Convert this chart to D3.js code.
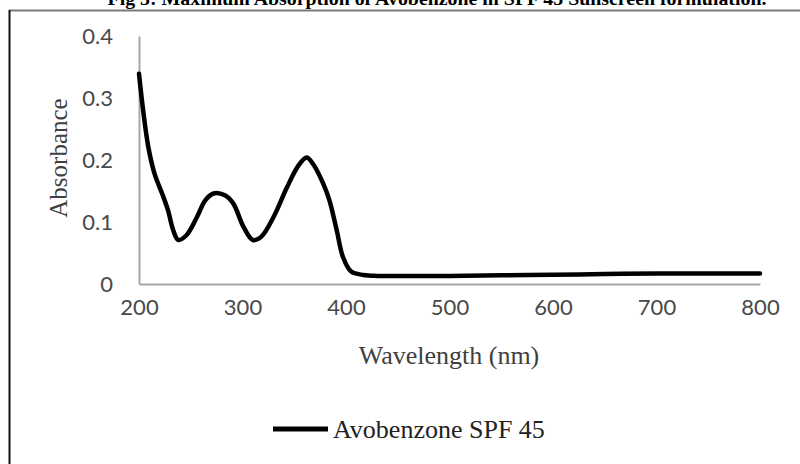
<!DOCTYPE html>
<html>
<head>
<meta charset="utf-8">
<script src="https://cdn.jsdelivr.net/npm/d3@7/dist/d3.min.js"></script>
<style>
html,body{margin:0;padding:0;background:#fff;}
svg{display:block;}
</style>
</head>
<body>
<svg id="chart" width="800" height="464"></svg>
<script>
const titleText = "Fig 3: Maximum Absorption of Avobenzone in SPF 45 Sunscreen formulation.";
const seriesName = "Avobenzone SPF 45";
const xTitle = "Wavelength (nm)";
const yTitle = "Absorbance";
const xTicks = [200, 300, 400, 500, 600, 700, 800];
const yTicks = [0, 0.1, 0.2, 0.3, 0.4];
const wavelength = [200, 204, 209, 215, 223, 228, 233, 238, 246, 256, 264, 272, 283, 291, 301, 310, 318, 330, 343, 354, 362, 368, 378, 384, 391, 397, 405, 417, 430, 450, 500, 550, 600, 650, 700, 750, 800];
const absorbance = [0.339, 0.28, 0.221, 0.178, 0.143, 0.119, 0.087, 0.071, 0.079, 0.108, 0.135, 0.146, 0.143, 0.130, 0.092, 0.071, 0.076, 0.108, 0.156, 0.191, 0.204, 0.194, 0.162, 0.135, 0.087, 0.044, 0.020, 0.0145, 0.013, 0.013, 0.013, 0.014, 0.015, 0.016, 0.017, 0.017, 0.017];

const svg = d3.select("#chart");
const x = d3.scaleLinear().domain([200, 800]).range([139, 760]);
const y = d3.scaleLinear().domain([0, 0.4]).range([284, 36]);

// frame
svg.append("line").attr("x1", 9).attr("x2", 800).attr("y1", 10.5).attr("y2", 10.5)
  .attr("stroke", "#7a7a7a").attr("stroke-width", 2);
svg.append("line").attr("x1", 9.5).attr("x2", 9.5).attr("y1", 10).attr("y2", 464)
  .attr("stroke", "#111").attr("stroke-width", 2);

// title (partly cut off at top, as in the reference)
const title = svg.append("text").attr("x", 437).attr("y", 5)
  .attr("text-anchor", "middle")
  .attr("font-family", "Liberation Serif, Times New Roman, serif")
  .attr("font-weight", "bold").attr("font-size", 20).attr("fill", "#000")
  .text(titleText);
const tw = title.node().getComputedTextLength();
title.attr("font-size", 20 * 659 / tw);

// axes
const xAxis = d3.axisBottom(x).tickValues(xTicks).tickSize(0).tickPadding(15).tickFormat(d3.format("d"));
const gx = svg.append("g").attr("transform", "translate(0,284)").call(xAxis);
gx.select(".domain").attr("stroke", "#a6a6a6").attr("stroke-width", 2);
gx.selectAll("text").attr("font-family", "Lato, sans-serif").attr("font-size", 22).attr("fill", "#484848");

const yAxis = d3.axisLeft(y).tickValues(yTicks).tickSize(0).tickPadding(26)
  .tickFormat(d => d === 0 ? "0" : d3.format(".1f")(d));
const gy = svg.append("g").attr("transform", "translate(139,0)").call(yAxis);
gy.select(".domain").attr("stroke", "#a6a6a6").attr("stroke-width", 2);
gy.selectAll("text").attr("font-family", "Lato, sans-serif").attr("font-size", 22).attr("fill", "#484848");

// axis titles
svg.append("text").attr("x", 449).attr("y", 364).attr("text-anchor", "middle")
  .attr("font-family", "Liberation Serif, Times New Roman, serif").attr("font-size", 26).attr("fill", "#404040")
  .attr("xml:space", "preserve")
  .text(xTitle);
svg.append("text").attr("transform", "translate(67,158) rotate(-90)").attr("text-anchor", "middle")
  .attr("font-family", "Liberation Serif, Times New Roman, serif").attr("font-size", 25).attr("fill", "#404040")
  .text(yTitle);

// series
const data = wavelength.map((w, i) => ({w, a: absorbance[i]}));
const line = d3.line().x(d => x(d.w)).y(d => y(d.a)).curve(d3.curveCatmullRom.alpha(0.5));
svg.append("path").datum(data).attr("d", line).attr("fill", "none")
  .attr("stroke", "#000").attr("stroke-width", 4.5).attr("stroke-linejoin", "round").attr("stroke-linecap", "round");

// legend
svg.append("line").attr("x1", 273).attr("x2", 328).attr("y1", 429).attr("y2", 429)
  .attr("stroke", "#000").attr("stroke-width", 5);
svg.append("text").attr("x", 333).attr("y", 438)
  .attr("font-family", "Liberation Serif, Times New Roman, serif").attr("font-size", 26).attr("fill", "#222")
  .text(seriesName);
</script>
</body>
</html>
